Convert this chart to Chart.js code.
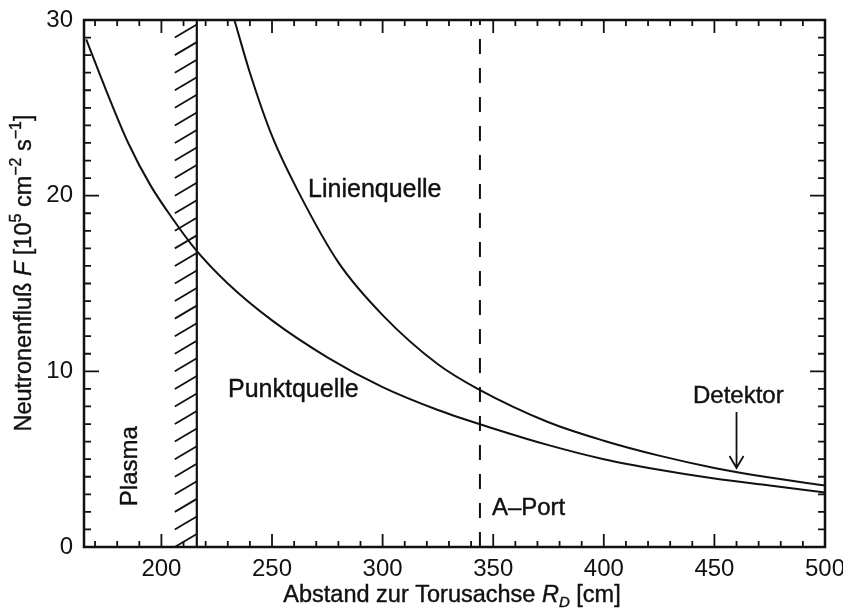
<!DOCTYPE html>
<html>
<head>
<meta charset="utf-8">
<script src="https://cdn.jsdelivr.net/npm/chart.js@4.4.1/dist/chart.umd.min.js"></script>
<style>
  html, body { margin: 0; padding: 0; background: #fff; }
  #wrap { width: 843px; height: 613px; }
</style>
</head>
<body>
<div id="wrap"><canvas id="c" width="843" height="613"></canvas></div>
<script>
// ---------- DATA ----------
const xTicks = [200, 250, 300, 350, 400, 450, 500];
const yTicks = [0, 10, 20, 30];

// Punktquelle (point source)
const pointR = [166, 175, 185, 195, 205, 215, 230, 250, 275, 300, 325, 350, 375, 400, 425, 450, 475, 500];
const pointF = [28.9, 26.0, 23.0, 20.6, 18.7, 17.0, 15.0, 12.9, 10.8, 9.1, 7.8, 6.75, 5.8, 5.0, 4.4, 3.9, 3.5, 3.1];

// Linienquelle (line source)
const lineR = [233, 240, 250, 262, 280, 300, 325, 343, 375, 400, 425, 450, 475, 500];
const lineF = [30.0, 27.0, 23.4, 20.2, 16.2, 13.2, 10.4, 9.0, 7.1, 6.05, 5.2, 4.5, 3.95, 3.5];

const wallR = 216;    // vessel wall (hatched)
const portR = 344;    // A-Port
const detR = 460;     // detector arrow position

const FONT = '"Liberation Sans", Arial, Helvetica, sans-serif';
const INK = "#111";

const toXY = (xs, ys) => xs.map((x, i) => ({ x, y: ys[i] }));

// ---------- DECORATION PLUGIN ----------
const decor = {
  id: "decor",
  beforeDraw(chart) {
    const ctx = chart.ctx;
    ctx.save();
    ctx.fillStyle = "#fff";
    ctx.fillRect(0, 0, chart.width, chart.height);
    ctx.restore();
  },
  afterDatasetsDraw(chart) {
    const { ctx, chartArea: a, scales: { x, y } } = chart;
    ctx.save();
    ctx.strokeStyle = INK;
    ctx.fillStyle = INK;

    // hatching left of the wall
    ctx.save();
    ctx.beginPath();
    ctx.rect(a.left, a.top, a.right - a.left, a.bottom - a.top);
    ctx.clip();
    ctx.lineWidth = 1.8;
    const wx = x.getPixelForValue(wallR);
    for (let k = 0; k < 30; k++) {
      const py = y.getPixelForValue(k);
      ctx.beginPath();
      ctx.moveTo(wx - 22, py);
      ctx.lineTo(wx, py - 13);
      ctx.stroke();
    }
    ctx.restore();

    // frame
    ctx.lineWidth = 2.5;
    ctx.strokeRect(a.left, a.top, a.right - a.left, a.bottom - a.top);

    // inward ticks
    ctx.lineWidth = 1.8;
    for (let v = 170; v <= 500; v += 10) {
      const px = x.getPixelForValue(v);
      const len = v % 50 === 0 ? 13 : 6;
      ctx.beginPath();
      ctx.moveTo(px, a.bottom); ctx.lineTo(px, a.bottom - len);
      ctx.moveTo(px, a.top); ctx.lineTo(px, a.top + len);
      ctx.stroke();
    }
    for (let v = 1; v < 30; v++) {
      const py = y.getPixelForValue(v);
      const len = v % 10 === 0 ? 15 : 7;
      ctx.beginPath();
      ctx.moveTo(a.left, py); ctx.lineTo(a.left + len, py);
      ctx.moveTo(a.right, py); ctx.lineTo(a.right - len, py);
      ctx.stroke();
    }

    // annotations
    ctx.lineWidth = 0.4;
    ctx.font = "25px " + FONT;
    ctx.textAlign = "left";
    ctx.textBaseline = "alphabetic";
    label(ctx, "Linienquelle", x.getPixelForValue(266.3), y.getPixelForValue(19.9));
    label(ctx, "Punktquelle", x.getPixelForValue(230.1), y.getPixelForValue(8.54));
    ctx.font = "24px " + FONT;
    label(ctx, "Detektor", x.getPixelForValue(440.3), y.getPixelForValue(8.2));
    label(ctx, "A\u2013Port", x.getPixelForValue(349.4), y.getPixelForValue(1.82));

    ctx.save();
    ctx.translate(x.getPixelForValue(189), y.getPixelForValue(4.6));
    ctx.rotate(-Math.PI / 2);
    ctx.textAlign = "center";
    label(ctx, "Plasma", 0, 0);
    ctx.restore();

    // detector arrow
    const ax = x.getPixelForValue(detR);
    const ay0 = y.getPixelForValue(7.68);
    const ay1 = y.getPixelForValue(4.5);
    ctx.lineWidth = 1.8;
    ctx.beginPath();
    ctx.moveTo(ax, ay0); ctx.lineTo(ax, ay1);
    ctx.moveTo(ax - 7, ay1 - 12); ctx.lineTo(ax, ay1); ctx.lineTo(ax + 7, ay1 - 12);
    ctx.stroke();

    // axis titles
    drawParts(ctx, [
      ["Abstand zur Torusachse ", 23.5, 0, ""],
      ["R", 23.5, 0, "italic "],
      ["D", 15, 5, "italic "],
      [" [cm]", 23.5, 0, ""]
    ], 452, 602, 0);

    drawParts(ctx, [
      ["Neutronenflu\u00df ", 23.5, 0, ""],
      ["F", 23.5, 0, "italic "],
      [" [10", 23.5, 0, ""],
      ["5", 16, -10, ""],
      [" cm", 23.5, 0, ""],
      ["\u22122", 16, -10, ""],
      [" s", 23.5, 0, ""],
      ["\u22121", 16, -10, ""],
      ["]", 23.5, 0, ""]
    ], 31, 273, -Math.PI / 2);

    ctx.restore();
  }
};

function label(ctx, t, px, py) {
  ctx.fillText(t, px, py);
  ctx.strokeText(t, px, py);
}

function drawParts(ctx, parts, cx, cy, rot) {
  ctx.save();
  ctx.translate(cx, cy);
  ctx.rotate(rot);
  ctx.textAlign = "left";
  ctx.textBaseline = "alphabetic";
  ctx.lineWidth = 0.4;
  let total = 0;
  for (const [t, s, , st] of parts) {
    ctx.font = st + s + "px " + FONT;
    total += ctx.measureText(t).width;
  }
  let px = -total / 2;
  for (const [t, s, dy, st] of parts) {
    ctx.font = st + s + "px " + FONT;
    label(ctx, t, px, dy);
    px += ctx.measureText(t).width;
  }
  ctx.restore();
}

// ---------- CHART ----------
new Chart(document.getElementById("c"), {
  type: "line",
  data: {
    datasets: [
      { label: "Punktquelle", data: toXY(pointR, pointF), borderColor: INK, borderWidth: 2,
        pointRadius: 0, cubicInterpolationMode: "monotone", fill: false },
      { label: "Linienquelle", data: toXY(lineR, lineF), borderColor: INK, borderWidth: 2,
        pointRadius: 0, cubicInterpolationMode: "monotone", fill: false },
      { label: "Wand", data: toXY([wallR, wallR], [0, 30]), borderColor: INK, borderWidth: 2.2,
        pointRadius: 0, fill: false },
      { label: "A-Port", data: toXY([portR, portR], [0, 30]), borderColor: INK, borderWidth: 2,
        borderDash: [15, 14], pointRadius: 0, fill: false }
    ]
  },
  options: {
    responsive: false,
    animation: false,
    devicePixelRatio: 1,
    layout: { padding: { top: 20, right: 18, left: 0, bottom: 0 } },
    plugins: { legend: { display: false }, tooltip: { enabled: false } },
    scales: {
      x: {
        type: "linear", min: 165, max: 500,
        afterBuildTicks: s => { s.ticks = xTicks.map(v => ({ value: v })); },
        afterFit: s => { s.height = 66; s.paddingLeft = 0; s.paddingRight = 0; },
        grid: { display: false, drawTicks: false },
        border: { display: false },
        ticks: { autoSkip: false, maxRotation: 0, padding: 8, color: INK,
          font: { family: FONT, size: 24 } }
      },
      y: {
        type: "linear", min: 0, max: 30,
        afterBuildTicks: s => { s.ticks = yTicks.map(v => ({ value: v })); },
        afterFit: s => { s.width = 84; s.paddingTop = 0; s.paddingBottom = 0; },
        grid: { display: false, drawTicks: false },
        border: { display: false },
        ticks: { autoSkip: false, padding: 11, color: INK,
          font: { family: FONT, size: 24 } }
      }
    }
  },
  plugins: [decor]
});
</script>
</body>
</html>
